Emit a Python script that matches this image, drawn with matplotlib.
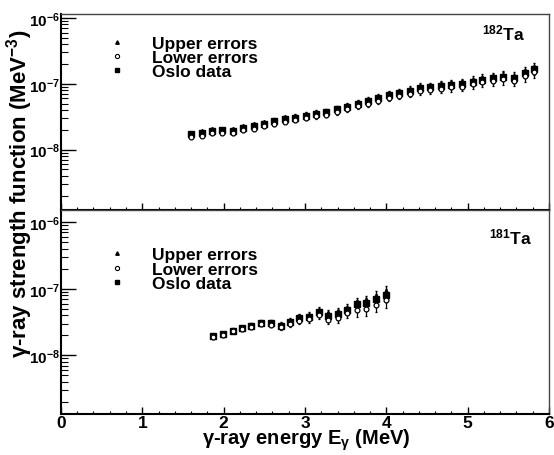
import numpy as np
import matplotlib.pyplot as plt
from matplotlib.lines import Line2D
from matplotlib.ticker import LogLocator, LogFormatterMathtext, MultipleLocator, NullFormatter

plt.rcParams['font.family'] = ['Liberation Sans', 'DejaVu Sans']
plt.rcParams['font.weight'] = 'bold'
plt.rcParams['mathtext.fontset'] = 'custom'
plt.rcParams['mathtext.bf'] = 'Liberation Sans:bold'
plt.rcParams['mathtext.rm'] = 'Liberation Sans:bold'
plt.rcParams['mathtext.default'] = 'bf'

# 182Ta (values in units of 1e-8 MeV^-3)
e182 = [1.60, 1.73, 1.86, 1.98, 2.11, 2.24, 2.37, 2.50, 2.62, 2.75, 2.88, 3.01,
        3.14, 3.26, 3.39, 3.52, 3.65, 3.78, 3.90, 4.03, 4.16, 4.29, 4.42, 4.54,
        4.67, 4.80, 4.93, 5.06, 5.18, 5.31, 5.44, 5.57, 5.70, 5.82]
f182 = [1.70, 1.78, 1.94, 1.96, 1.94, 2.15, 2.30, 2.47, 2.68, 2.92, 3.06, 3.28,
        3.50, 3.70, 4.10, 4.50, 5.00, 5.40, 6.00, 6.80, 7.20, 7.80, 8.60, 8.80,
        9.30, 9.70, 9.90, 10.8, 11.5, 12.2, 12.9, 12.2, 14.5, 16.6]
up182 = [1.80, 1.89, 2.06, 2.08, 2.06, 2.28, 2.44, 2.62, 2.84, 3.10, 3.24, 3.48,
         3.71, 3.92, 4.35, 4.77, 5.30, 5.72, 6.36, 7.21, 7.63, 8.27, 9.12, 9.33,
         9.86, 10.3, 10.5, 11.4, 12.2, 12.9, 13.7, 12.9, 15.4, 17.6]
lo182 = [1.55, 1.62, 1.76, 1.78, 1.76, 1.96, 2.09, 2.25, 2.44, 2.66, 2.78, 2.98,
         3.19, 3.37, 3.73, 4.10, 4.55, 4.91, 5.46, 6.19, 6.55, 7.10, 7.83, 8.01,
         8.46, 8.83, 9.01, 9.83, 10.5, 11.1, 11.7, 11.1, 13.2, 15.1]
err182 = [0.05, 0.06, 0.07, 0.07, 0.08, 0.09, 0.10, 0.12, 0.14, 0.16, 0.18, 0.21,
          0.24, 0.27, 0.32, 0.37, 0.44, 0.50, 0.58, 0.69, 0.77, 0.87, 1.00, 1.07,
          1.18, 1.28, 1.36, 1.54, 1.70, 1.87, 2.05, 2.00, 2.45, 2.90]

# 181Ta
e181 = [1.87, 1.99, 2.11, 2.22, 2.34, 2.46, 2.58, 2.70, 2.81, 2.93, 3.05, 3.17,
        3.28, 3.40, 3.52, 3.64, 3.75, 3.87, 3.99]
f181 = [1.96, 2.09, 2.36, 2.56, 2.75, 3.10, 3.02, 2.78, 3.15, 3.63, 3.80, 4.40,
        3.93, 4.21, 4.83, 5.89, 6.10, 7.00, 8.12]
up181 = [2.00, 2.14, 2.42, 2.63, 2.83, 3.20, 3.13, 2.89, 3.30, 3.85, 4.05, 4.75,
         4.30, 4.60, 5.20, 6.40, 6.70, 7.80, 9.20]
lo181 = [1.90, 2.03, 2.29, 2.48, 2.66, 2.98, 2.89, 2.65, 2.98, 3.33, 3.50, 3.97,
         3.42, 3.63, 4.31, 4.72, 5.00, 5.75, 6.83]
err181 = [0.12, 0.13, 0.15, 0.17, 0.19, 0.22, 0.23, 0.23, 0.28, 0.35, 0.40, 0.50,
          0.50, 0.58, 0.70, 0.90, 1.05, 1.30, 1.70]

scale = 1e-8

fig = plt.figure(figsize=(5.54, 4.56), dpi=100)
ax1 = fig.add_axes([0.110, 0.537, 0.881, 0.430])
ax2 = fig.add_axes([0.110, 0.090, 0.881, 0.447])


def draw_panel(ax, e, f, up, lo, err, label, ylim, lab_pos, leg_y):
    e = np.array(e)
    err = np.array(err) * scale
    ax.errorbar(e, np.array(up) * scale, yerr=err, fmt='^', ms=3, color='k',
                elinewidth=0.9, capsize=1, zorder=3)
    ax.errorbar(e, np.array(f) * scale, yerr=err, fmt='s', ms=4, color='k',
                elinewidth=0.9, capsize=1, zorder=4)
    ax.errorbar(e, np.array(lo) * scale, yerr=err, fmt='o', ms=3.5, color='k',
                mfc='white', mew=0.9, elinewidth=0.9, capsize=1, zorder=5)
    ax.set_yscale('log')
    ax.set_xlim(0, 6)
    ax.set_ylim(*ylim)
    ax.yaxis.set_major_locator(LogLocator(base=10, numticks=10))
    ax.yaxis.set_minor_locator(LogLocator(base=10, subs=np.arange(2, 10), numticks=10))
    ax.yaxis.set_major_formatter(LogFormatterMathtext())
    ax.yaxis.set_minor_formatter(NullFormatter())
    ax.xaxis.set_major_locator(MultipleLocator(1))
    ax.xaxis.set_minor_locator(MultipleLocator(0.2))
    ax.tick_params(axis='y', which='major', direction='in', length=11, width=1,
                   labelsize=11, pad=1, right=False)
    ax.tick_params(axis='y', which='minor', direction='in', length=5, width=0.8,
                   right=False)
    ax.tick_params(axis='x', which='major', direction='in', length=5, width=1,
                   labelsize=12.5, pad=1, top=False)
    ax.tick_params(axis='x', which='minor', direction='in', length=2.5, width=0.8,
                   top=False)
    for s in ['left', 'bottom']:
        ax.spines[s].set_linewidth(1.5)
    for s in ['top', 'right']:
        ax.spines[s].set_linewidth(1.0)
        ax.spines[s].set_color('#444444')
    ax.text(lab_pos[0], lab_pos[1], label, transform=ax.transAxes, fontsize=12.5,
            fontweight='bold', va='center')
    handles = [Line2D([], [], ls='', marker='^', ms=2.5, color='k'),
               Line2D([], [], ls='', marker='o', ms=3, color='k', mfc='white', mew=0.8),
               Line2D([], [], ls='', marker='s', ms=3.5, color='k')]
    ax.legend(handles, ['Upper errors', 'Lower errors', 'Oslo data'],
              loc='upper left', bbox_to_anchor=(0.08, leg_y), frameon=False,
              handletextpad=1.5, labelspacing=-0.05,
              handlelength=1.0, borderpad=0.0,
              prop={'weight': 'bold', 'size': 12.5})


draw_panel(ax1, e182, f182, up182, lo182, err182, r'$^{182}$Ta',
           (10 ** -8.92, 10 ** -5.94), (0.862, 0.905), 0.935)
draw_panel(ax2, e181, f181, up181, lo181, err181, r'$^{181}$Ta',
           (10 ** -8.88, 10 ** -5.82), (0.877, 0.87), 0.86)
ax1.set_xticklabels([])

fig.text(0.036, 0.575, r'$\gamma$-ray strength function (MeV$^{-3}$)',
         rotation=90, ha='center', va='center', fontsize=16, fontweight='bold')
fig.text(0.553, 0.035, r'$\gamma$-ray energy E$_{\gamma}$ (MeV)',
         ha='center', va='center', fontsize=14.5, fontweight='bold')

fig.savefig('out.png', dpi=100)
